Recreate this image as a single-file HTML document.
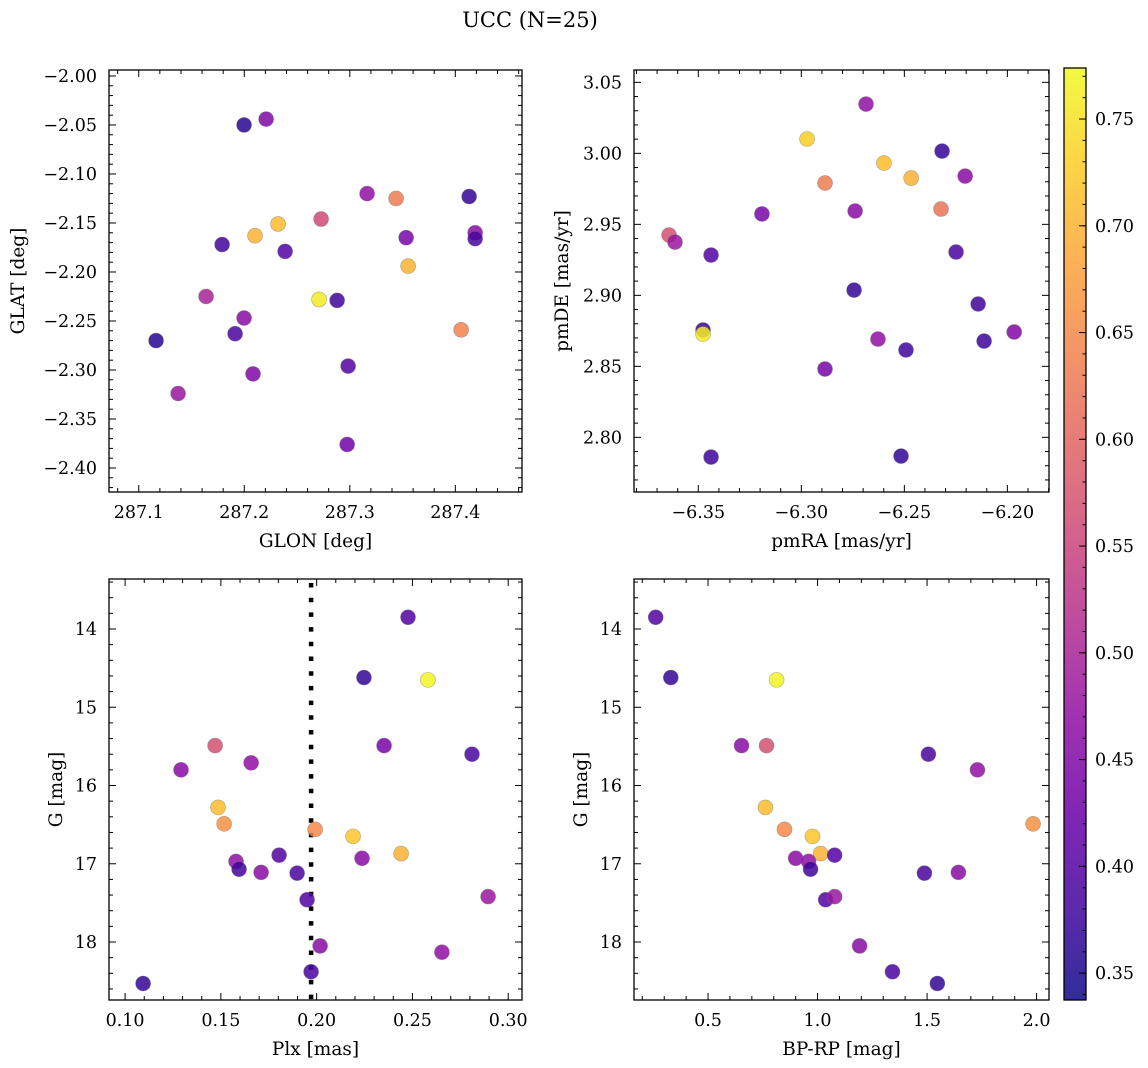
<!DOCTYPE html>
<html><head><meta charset="utf-8"><style>
body{margin:0;background:#fff;}
svg{display:block;font-family:"DejaVu Serif","Liberation Serif",serif;}
</style></head><body>
<svg id="fig" width="1148" height="1068" xmlns="http://www.w3.org/2000/svg">
<text x="530" y="27" font-size="21" text-anchor="middle">UCC (N=25)</text>
<defs><linearGradient id="cbg" x1="0" y1="1" x2="0" y2="0">
<stop offset="0" stop-color="#0d0887"/><stop offset="0.1" stop-color="#41049d"/><stop offset="0.2" stop-color="#6a00a8"/><stop offset="0.3" stop-color="#8f0da4"/><stop offset="0.4" stop-color="#b12a90"/><stop offset="0.5" stop-color="#cc4778"/><stop offset="0.6" stop-color="#e16462"/><stop offset="0.7" stop-color="#f2844b"/><stop offset="0.8" stop-color="#fca636"/><stop offset="0.9" stop-color="#fcce25"/><stop offset="1" stop-color="#f0f921"/>
</linearGradient></defs>
</svg>
<script>
// Panel 1: GLON vs GLAT
const p1Glon=[287.1998,287.2207,287.3164,287.3439,287.4131,287.2728,287.2320,287.2102,287.1790,287.2387,287.3534,287.4188,287.4188,287.3553,287.1638,287.2709,287.2880,287.1998,287.1913,287.1164,287.4055,287.2083,287.2984,287.1373,287.2975];
const p1Glat=[-2.050,-2.044,-2.120,-2.125,-2.123,-2.146,-2.151,-2.163,-2.172,-2.179,-2.165,-2.160,-2.166,-2.194,-2.225,-2.228,-2.229,-2.247,-2.263,-2.270,-2.259,-2.304,-2.296,-2.324,-2.376];
const p1Prob=[0.36,0.45,0.47,0.63,0.37,0.56,0.71,0.70,0.38,0.40,0.44,0.46,0.39,0.70,0.50,0.76,0.38,0.46,0.39,0.36,0.64,0.45,0.40,0.48,0.43];
// Panel 2: pmRA vs pmDE
const p2Pmra=[-6.2686,-6.2972,-6.2317,-6.2599,-6.2467,-6.2205,-6.2885,-6.3191,-6.2739,-6.2322,-6.3642,-6.3613,-6.3438,-6.2249,-6.2744,-6.2142,-6.3477,-6.3477,-6.1967,-6.2113,-6.2628,-6.2492,-6.2885,-6.3438,-6.2516];
const p2Pmde=[3.0347,3.0101,3.0016,2.9932,2.9826,2.9840,2.9791,2.9573,2.9594,2.9608,2.9425,2.9375,2.9284,2.9305,2.9037,2.8939,2.8756,2.8727,2.8742,2.8678,2.8692,2.8615,2.8481,2.7861,2.7868];
const p2Prob=[0.47,0.73,0.37,0.71,0.70,0.46,0.63,0.44,0.46,0.62,0.57,0.48,0.40,0.39,0.37,0.38,0.38,0.76,0.45,0.38,0.47,0.38,0.44,0.38,0.37];
// Panel 3: Plx vs G
const p3Plx=[0.2477,0.2247,0.2581,0.1470,0.1292,0.1658,0.2352,0.2811,0.1485,0.1517,0.1992,0.2190,0.2441,0.1804,0.2237,0.1579,0.1595,0.1710,0.1898,0.2895,0.1950,0.2018,0.2654,0.1971,0.1094];
const p3G=[13.85,14.62,14.65,15.49,15.80,15.71,15.49,15.60,16.28,16.49,16.56,16.65,16.87,16.89,16.93,16.97,17.07,17.11,17.12,17.42,17.46,18.05,18.13,18.38,18.53];
const p3Prob=[0.40,0.37,0.77,0.57,0.46,0.47,0.44,0.39,0.71,0.66,0.65,0.72,0.70,0.40,0.46,0.47,0.38,0.46,0.39,0.48,0.40,0.46,0.47,0.39,0.37];
// Panel 4: BP-RP vs G
const p4Bprp=[0.261,0.330,0.813,0.653,0.767,1.506,1.730,0.762,0.849,1.984,0.977,1.014,1.078,0.900,0.959,0.968,1.488,1.643,1.037,1.078,1.192,1.342,1.547];
const p4G=[13.85,14.62,14.65,15.49,15.49,15.60,15.80,16.28,16.56,16.49,16.65,16.87,16.89,16.93,16.97,17.07,17.12,17.11,17.46,17.42,18.05,18.38,18.53];
const p4Prob=[0.40,0.37,0.77,0.46,0.57,0.39,0.47,0.71,0.65,0.66,0.72,0.70,0.40,0.46,0.47,0.38,0.39,0.46,0.40,0.48,0.46,0.39,0.37];
const plxLine=[0.1971];
const cbTicks=[0.35,0.40,0.45,0.50,0.55,0.60,0.65,0.70,0.75];
const cMin=0.3374,cMax=0.7739;

const NS="http://www.w3.org/2000/svg";
const svg=document.getElementById('fig');
function mk(tag,attrs,parent){const e=document.createElementNS(NS,tag);for(const k in attrs)e.setAttribute(k,attrs[k]);(parent||svg).appendChild(e);return e;}
const stops=[[13,8,135],[65,4,157],[106,0,168],[143,13,164],[177,42,144],[204,71,120],[225,100,98],[242,132,75],[252,166,54],[252,206,37],[240,249,33]];
function plasma(t){t=Math.max(0,Math.min(1,t))*10;const i=Math.min(9,Math.floor(t)),f=t-i;const a=stops[i],b=stops[i+1];return 'rgb('+a.map((v,j)=>Math.round(v+(b[j]-v)*f)).join(',')+')';}
function fmt(v,d){let s=v.toFixed(d);return s.replace('-','\u2212');}

function panel(o){
  const sx=v=>o.x0+(v-o.xmin)/(o.xmax-o.xmin)*(o.x1-o.x0);
  const sy=v=>o.inv? o.y0+(v-o.ymin)/(o.ymax-o.ymin)*(o.y1-o.y0) : o.y1-(v-o.ymin)/(o.ymax-o.ymin)*(o.y1-o.y0);
  const g=mk('g',{});
  
  
  if(o.vline){o.vline.forEach(v=>{const l=mk('line',{x1:sx(v),x2:sx(v),y1:o.y0+4,y2:o.y1,stroke:'#000','stroke-width':4.5,'stroke-dasharray':'4.5 10.2'},g);
    
    });}
  o.xs.forEach((xv,i)=>{const c=mk('circle',{cx:sx(xv),cy:sy(o.ys[i]),r:7.5,fill:plasma((o.cs[i]-cMin)/(cMax-cMin)),'fill-opacity':0.85,stroke:'#777','stroke-opacity':0.6,'stroke-width':0.6},g);
    
    });
  mk('rect',{x:o.x0,y:o.y0,width:o.x1-o.x0,height:o.y1-o.y0,fill:'none',stroke:'#000','stroke-width':1.3},g);
  const eps=1e-9;
  for(let v=Math.ceil(o.xmin/o.xminor-eps)*o.xminor; v<=o.xmax+eps; v+=o.xminor){
    const isMaj=Math.abs(v/o.xmajor-Math.round(v/o.xmajor))<1e-6;const L=isMaj?7:4;const X=sx(v);
    mk('line',{x1:X,x2:X,y1:o.y1,y2:o.y1-L,stroke:'#000','stroke-width':1},g);
    mk('line',{x1:X,x2:X,y1:o.y0,y2:o.y0+L,stroke:'#000','stroke-width':1},g);
    if(isMaj){const t=mk('text',{x:X,y:o.y1+26,'font-size':17.5,'text-anchor':'middle'},g);t.textContent=fmt(Math.round(v/o.xmajor)*o.xmajor,o.xd);
      
      }
  }
  for(let v=Math.ceil(o.ymin/o.yminor-eps)*o.yminor; v<=o.ymax+eps; v+=o.yminor){
    const isMaj=Math.abs(v/o.ymajor-Math.round(v/o.ymajor))<1e-6;const L=isMaj?7:4;const Y=sy(v);
    mk('line',{x1:o.x0,x2:o.x0+L,y1:Y,y2:Y,stroke:'#000','stroke-width':1},g);
    mk('line',{x1:o.x1,x2:o.x1-L,y1:Y,y2:Y,stroke:'#000','stroke-width':1},g);
    if(isMaj){const t=mk('text',{x:o.x0-12,y:Y+6,'font-size':17.5,'text-anchor':'end'},g);t.textContent=fmt(Math.round(v/o.ymajor)*o.ymajor,o.yd);
      
      }
  }
  const xl=mk('text',{x:(o.x0+o.x1)/2,y:o.y1+55,'font-size':18.5,'text-anchor':'middle'},g);xl.textContent=o.xlabel;
  
  
  const yl=mk('text',{x:0,y:0,'font-size':18.5,'text-anchor':'middle',transform:'translate('+o.ylx+','+(o.y0+o.y1)/2+') rotate(-90)'},g);yl.textContent=o.ylabel;
  
  
}
panel({name:'glon-glat-panel',x0:109,x1:522,y0:70,y1:492,xmin:287.0718,xmax:287.4632,ymin:-2.4245,ymax:-1.9939,xmajor:0.1,xminor:0.02,xd:1,ymajor:0.05,yminor:0.01,yd:2,xs:p1Glon,ys:p1Glat,cs:p1Prob,xlabel:'GLON [deg]',ylabel:'GLAT [deg]',ylx:24});
panel({name:'pm-panel',x0:634,x1:1049,y0:70,y1:492,xmin:-6.3812,xmax:-6.1798,ymin:2.7615,ymax:3.0587,xmajor:0.05,xminor:0.01,xd:2,ymajor:0.05,yminor:0.01,yd:2,xs:p2Pmra,ys:p2Pmde,cs:p2Prob,xlabel:'pmRA [mas/yr]',ylabel:'pmDE [mas/yr]',ylx:568});
panel({name:'plx-g-panel',x0:109,x1:522,y0:579,y1:1000,xmin:0.0916,xmax:0.3072,ymin:13.361,ymax:18.741,inv:true,xmajor:0.05,xminor:0.01,xd:2,ymajor:1,yminor:0.2,yd:0,xs:p3Plx,ys:p3G,cs:p3Prob,xlabel:'Plx [mas]',ylabel:'G [mag]',ylx:62,vline:plxLine});
panel({name:'cmd-panel',x0:634,x1:1049,y0:579,y1:1000,xmin:0.1620,xmax:2.0567,ymin:13.361,ymax:18.741,inv:true,xmajor:0.5,xminor:0.1,xd:1,ymajor:1,yminor:0.2,yd:0,xs:p4Bprp,ys:p4G,cs:p4Prob,xlabel:'BP-RP [mag]',ylabel:'G [mag]',ylx:587});
const cb=mk('g',{});


const cy0=68,cy1=1000,cx0=1064,cx1=1086;
const cyv=v=>cy1-(v-cMin)/(cMax-cMin)*(cy1-cy0);
mk('rect',{x:cx0,y:cy0,width:cx1-cx0,height:cy1-cy0,fill:'url(#cbg)','fill-opacity':0.85},cb);
mk('rect',{x:cx0,y:cy0,width:cx1-cx0,height:cy1-cy0,fill:'none',stroke:'#000','stroke-width':1.3},cb);
for(let v=0.34;v<=cMax+1e-9;v+=0.01){const Y=cyv(v);mk('line',{x1:cx1,x2:cx1-3.5,y1:Y,y2:Y,stroke:'#000','stroke-width':1},cb);}
cbTicks.forEach(v=>{const Y=cyv(v);mk('line',{x1:cx1,x2:cx1-7,y1:Y,y2:Y,stroke:'#000','stroke-width':1},cb);
  const t=mk('text',{x:cx1+9,y:Y+6,'font-size':17.5},cb);t.textContent=v.toFixed(2);
  
  });
</script>
</body></html>
